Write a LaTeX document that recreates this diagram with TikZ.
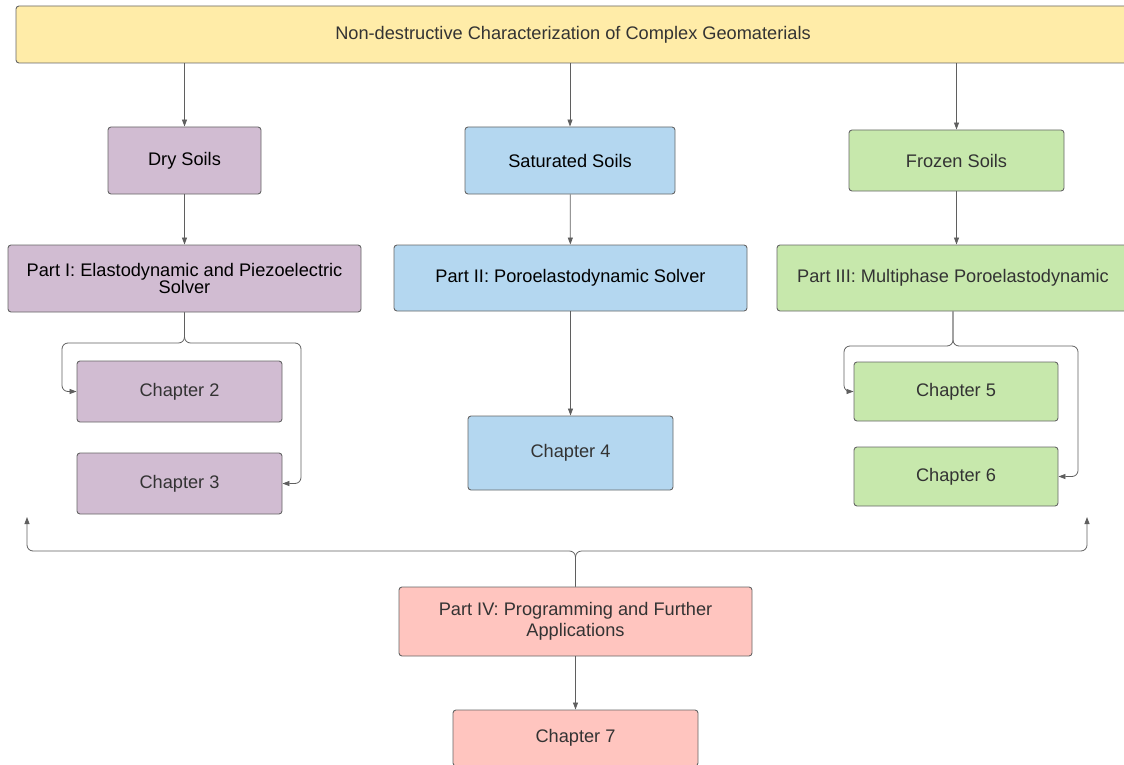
\documentclass[tikz,border=0pt]{standalone}
\usepackage{fontspec}
\setmainfont{Liberation Sans}
\usetikzlibrary{arrows.meta}
\definecolor{cYellow}{RGB}{255,236,168}
\definecolor{cPurple}{RGB}{209,188,210}
\definecolor{cBlue}{RGB}{180,215,240}
\definecolor{cGreen}{RGB}{199,232,172}
\definecolor{cPink}{RGB}{255,197,191}
\definecolor{cEdge}{RGB}{102,102,102}
\definecolor{cLine}{RGB}{95,95,95}
\definecolor{cText}{RGB}{51,51,51}
\tikzset{
  box/.style={draw=cEdge, line width=0.9pt, rounded corners=3pt, inner sep=0pt,
    align=center, font=\fontsize{18.2}{21.5}\selectfont, text=cText},
  dark/.style={text=black},
  conn/.style={draw=cLine, line width=0.8pt, rounded corners=6pt,
    -{Triangle[length=7pt,width=5pt]}},
}
\begin{document}
\begin{tikzpicture}[x=1pt,y=-1pt]
\useasboundingbox (0,0) rectangle (1124,765);
\clip (0,0) rectangle (1124,765);
% title
\node[box, fill=cYellow, minimum width=1114, minimum height=57] (top) at (573,34.5)
  {Non-destructive Characterization of Complex Geomaterials};
% soil types
\node[box, dark, fill=cPurple, minimum width=153, minimum height=67] (dry) at (184.5,160.5) {Dry Soils};
\node[box, dark, fill=cBlue, minimum width=210, minimum height=67] (sat) at (570,160.5) {Saturated Soils};
\node[box, fill=cGreen, minimum width=215, minimum height=61] (frz) at (956.5,160.5) {Frozen Soils};
% parts
\node[box, dark, fill=cPurple, minimum width=353, minimum height=67,
  font=\fontsize{18.2}{17.5}\selectfont] (p1) at (184.5,278.5)
  {Part I: Elastodynamic and Piezoelectric\\Solver};
\node[box, dark, fill=cBlue, minimum width=353, minimum height=66] (p2) at (570.5,278) {Part II: Poroelastodynamic Solver};
\node[box, fill=cGreen, minimum width=352, minimum height=66] (p3) at (953,278) {Part III: Multiphase Poroelastodynamic};
% chapters
\node[box, fill=cPurple, minimum width=205, minimum height=61] (c2) at (179.5,391.5) {Chapter 2};
\node[box, fill=cPurple, minimum width=205, minimum height=61] (c3) at (179.5,483.5) {Chapter 3};
\node[box, fill=cBlue, minimum width=205, minimum height=74] (c4) at (570.5,453) {Chapter 4};
\node[box, fill=cGreen, minimum width=204, minimum height=59] (c5) at (956,391.5) {Chapter 5};
\node[box, fill=cGreen, minimum width=204, minimum height=59] (c6) at (956,476.5) {Chapter 6};
% part IV
\node[box, fill=cPink, minimum width=353, minimum height=69] (p4) at (575.5,621.5)
  {Part IV: Programming and Further\\Applications};
\node[box, fill=cPink, minimum width=245, minimum height=56] (c7) at (575.5,738) {Chapter 7};
% free ends of the part IV arrows
\coordinate (lend) at (27,517);
\coordinate (rend) at (1087,517);
% connectors
\draw[conn] (dry.north |- top.south) -- (dry.north);
\draw[conn] (sat.north |- top.south) -- (sat.north);
\draw[conn] (frz.north |- top.south) -- (frz.north);
\draw[conn] (dry) -- (p1);
\draw[conn] (sat) -- (p2);
\draw[conn] (frz.south) -- (frz.south |- p3.north);
\draw[conn] (p1.south) -- (184.5,343) -- (62,343) |- (c2.west);
\draw[conn] (p1.south) -- (184.5,343) -- (301,343) |- (c3.east);
\draw[conn] (p2) -- (c4);
\draw[conn] (p3.south) -- (953,346) -- (844,346) |- (c5.west);
\draw[conn] (p3.south) -- (953,346) -- (1078,346) |- (c6.east);
\draw[conn] (p4.north) -- (575.5,551) -| (lend);
\draw[conn] (p4.north) -- (575.5,551) -| (rend);
\draw[conn] (p4) -- (c7);
\end{tikzpicture}
\end{document}
